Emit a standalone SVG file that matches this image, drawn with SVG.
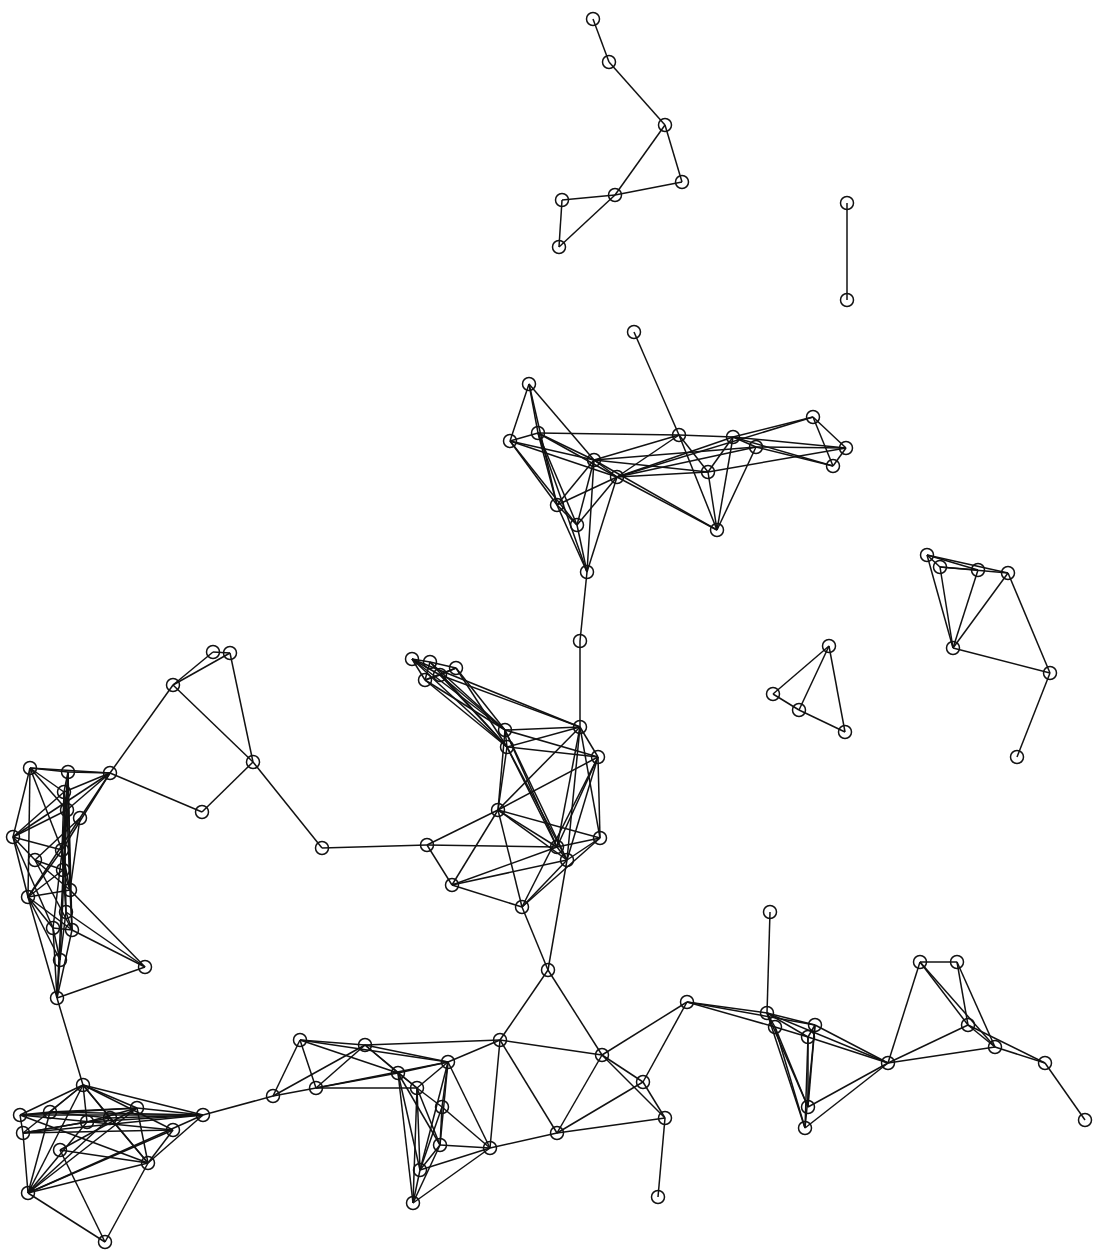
<svg xmlns="http://www.w3.org/2000/svg" width="1094" height="1252" viewBox="0 0 1094 1252">
<style>
.e line{stroke:#111;stroke-width:1.5;fill:none}
.n circle{fill:none;stroke:#111;stroke-width:1.5}
</style>
<rect width="1094" height="1252" fill="#fff"/>
<g id="edges" class="e">
<line x1="593" y1="19" x2="609" y2="62"/><line x1="609" y1="62" x2="665" y2="125"/><line x1="665" y1="125" x2="682" y2="182"/><line x1="665" y1="125" x2="615" y2="195"/><line x1="682" y1="182" x2="615" y2="195"/><line x1="615" y1="195" x2="562" y2="200"/><line x1="562" y1="200" x2="559" y2="247"/><line x1="615" y1="195" x2="559" y2="247"/>
<line x1="847" y1="203" x2="847" y2="300"/>
<line x1="634" y1="332" x2="679" y2="435"/><line x1="529" y1="384" x2="510" y2="441"/><line x1="529" y1="384" x2="538" y2="433"/><line x1="529" y1="384" x2="594" y2="460"/><line x1="529" y1="384" x2="557" y2="505"/><line x1="510" y1="441" x2="538" y2="433"/><line x1="510" y1="441" x2="594" y2="460"/><line x1="510" y1="441" x2="617" y2="477"/><line x1="510" y1="441" x2="557" y2="505"/><line x1="510" y1="441" x2="577" y2="525"/><line x1="538" y1="433" x2="594" y2="460"/><line x1="538" y1="433" x2="617" y2="477"/><line x1="538" y1="433" x2="557" y2="505"/><line x1="538" y1="433" x2="577" y2="525"/><line x1="538" y1="433" x2="587" y2="572"/><line x1="679" y1="435" x2="733" y2="437"/><line x1="679" y1="435" x2="594" y2="460"/><line x1="679" y1="435" x2="617" y2="477"/><line x1="679" y1="435" x2="708" y2="472"/><line x1="679" y1="435" x2="717" y2="530"/><line x1="733" y1="437" x2="813" y2="417"/><line x1="733" y1="437" x2="846" y2="448"/><line x1="733" y1="437" x2="833" y2="466"/><line x1="733" y1="437" x2="708" y2="472"/><line x1="733" y1="437" x2="717" y2="530"/><line x1="733" y1="437" x2="617" y2="477"/><line x1="813" y1="417" x2="846" y2="448"/><line x1="813" y1="417" x2="833" y2="466"/><line x1="813" y1="417" x2="617" y2="477"/><line x1="846" y1="448" x2="833" y2="466"/><line x1="846" y1="448" x2="756" y2="447"/><line x1="846" y1="448" x2="708" y2="472"/><line x1="594" y1="460" x2="617" y2="477"/><line x1="594" y1="460" x2="708" y2="472"/><line x1="594" y1="460" x2="557" y2="505"/><line x1="594" y1="460" x2="577" y2="525"/><line x1="594" y1="460" x2="587" y2="572"/><line x1="594" y1="460" x2="717" y2="530"/><line x1="617" y1="477" x2="708" y2="472"/><line x1="617" y1="477" x2="717" y2="530"/><line x1="617" y1="477" x2="557" y2="505"/><line x1="617" y1="477" x2="577" y2="525"/><line x1="617" y1="477" x2="587" y2="572"/><line x1="617" y1="477" x2="756" y2="447"/><line x1="708" y1="472" x2="717" y2="530"/><line x1="557" y1="505" x2="577" y2="525"/><line x1="557" y1="505" x2="587" y2="572"/><line x1="577" y1="525" x2="587" y2="572"/><line x1="717" y1="530" x2="756" y2="447"/><line x1="756" y1="447" x2="733" y2="437"/><line x1="756" y1="447" x2="833" y2="466"/><line x1="587" y1="572" x2="580" y2="641"/><line x1="538" y1="433" x2="679" y2="435"/><line x1="594" y1="460" x2="756" y2="447"/>
<line x1="580" y1="641" x2="580" y2="727"/><line x1="412" y1="659" x2="430" y2="662"/><line x1="430" y1="662" x2="456" y2="668"/><line x1="412" y1="659" x2="425" y2="680"/><line x1="456" y1="668" x2="425" y2="680"/><line x1="430" y1="662" x2="425" y2="680"/><line x1="412" y1="659" x2="505" y2="730"/><line x1="412" y1="659" x2="507" y2="747"/><line x1="430" y1="662" x2="505" y2="730"/><line x1="430" y1="662" x2="507" y2="747"/><line x1="456" y1="668" x2="505" y2="730"/><line x1="456" y1="668" x2="507" y2="747"/><line x1="425" y1="680" x2="505" y2="730"/><line x1="425" y1="680" x2="507" y2="747"/><line x1="505" y1="730" x2="507" y2="747"/><line x1="505" y1="730" x2="580" y2="727"/><line x1="505" y1="730" x2="598" y2="757"/><line x1="505" y1="730" x2="498" y2="810"/><line x1="505" y1="730" x2="557" y2="847"/><line x1="505" y1="730" x2="567" y2="860"/><line x1="507" y1="747" x2="580" y2="727"/><line x1="507" y1="747" x2="598" y2="757"/><line x1="507" y1="747" x2="498" y2="810"/><line x1="507" y1="747" x2="557" y2="847"/><line x1="507" y1="747" x2="567" y2="860"/><line x1="580" y1="727" x2="598" y2="757"/><line x1="580" y1="727" x2="498" y2="810"/><line x1="580" y1="727" x2="557" y2="847"/><line x1="580" y1="727" x2="567" y2="860"/><line x1="580" y1="727" x2="600" y2="838"/><line x1="598" y1="757" x2="498" y2="810"/><line x1="598" y1="757" x2="600" y2="838"/><line x1="598" y1="757" x2="557" y2="847"/><line x1="598" y1="757" x2="567" y2="860"/><line x1="598" y1="757" x2="522" y2="907"/><line x1="498" y1="810" x2="427" y2="845"/><line x1="498" y1="810" x2="557" y2="847"/><line x1="498" y1="810" x2="567" y2="860"/><line x1="498" y1="810" x2="452" y2="885"/><line x1="498" y1="810" x2="522" y2="907"/><line x1="498" y1="810" x2="600" y2="838"/><line x1="427" y1="845" x2="452" y2="885"/><line x1="427" y1="845" x2="557" y2="847"/><line x1="600" y1="838" x2="557" y2="847"/><line x1="600" y1="838" x2="567" y2="860"/><line x1="600" y1="838" x2="522" y2="907"/><line x1="557" y1="847" x2="567" y2="860"/><line x1="557" y1="847" x2="452" y2="885"/><line x1="567" y1="860" x2="452" y2="885"/><line x1="567" y1="860" x2="522" y2="907"/><line x1="452" y1="885" x2="522" y2="907"/><line x1="427" y1="845" x2="322" y2="848"/>
<line x1="440" y1="675" x2="505" y2="730"/><line x1="440" y1="675" x2="507" y2="747"/><line x1="440" y1="675" x2="580" y2="727"/><line x1="440" y1="675" x2="456" y2="668"/><line x1="440" y1="675" x2="412" y2="659"/><line x1="440" y1="675" x2="425" y2="680"/><line x1="412" y1="659" x2="580" y2="727"/>
<line x1="213" y1="652" x2="230" y2="653"/><line x1="213" y1="652" x2="173" y2="685"/><line x1="230" y1="653" x2="173" y2="685"/><line x1="230" y1="653" x2="253" y2="762"/><line x1="173" y1="685" x2="253" y2="762"/><line x1="173" y1="685" x2="110" y2="773"/><line x1="110" y1="773" x2="202" y2="812"/><line x1="253" y1="762" x2="202" y2="812"/><line x1="253" y1="762" x2="322" y2="848"/>
<line x1="30" y1="768" x2="68" y2="772"/><line x1="30" y1="768" x2="110" y2="773"/><line x1="68" y1="772" x2="110" y2="773"/><line x1="30" y1="768" x2="13" y2="837"/><line x1="30" y1="768" x2="67" y2="810"/><line x1="30" y1="768" x2="62" y2="850"/><line x1="110" y1="773" x2="13" y2="837"/><line x1="110" y1="773" x2="67" y2="810"/><line x1="110" y1="773" x2="80" y2="818"/><line x1="110" y1="773" x2="62" y2="850"/><line x1="68" y1="772" x2="67" y2="810"/><line x1="68" y1="772" x2="62" y2="850"/><line x1="68" y1="772" x2="70" y2="890"/><line x1="68" y1="772" x2="72" y2="930"/><line x1="67" y1="810" x2="62" y2="850"/><line x1="67" y1="810" x2="70" y2="890"/><line x1="62" y1="850" x2="70" y2="890"/><line x1="70" y1="890" x2="72" y2="930"/><line x1="72" y1="930" x2="57" y2="998"/><line x1="13" y1="837" x2="67" y2="810"/><line x1="13" y1="837" x2="28" y2="897"/><line x1="13" y1="837" x2="62" y2="850"/><line x1="13" y1="837" x2="53" y2="928"/><line x1="13" y1="837" x2="35" y2="860"/><line x1="28" y1="897" x2="53" y2="928"/><line x1="28" y1="897" x2="57" y2="998"/><line x1="28" y1="897" x2="70" y2="890"/><line x1="28" y1="897" x2="72" y2="930"/><line x1="28" y1="897" x2="62" y2="850"/><line x1="70" y1="890" x2="145" y2="967"/><line x1="72" y1="930" x2="145" y2="967"/><line x1="57" y1="998" x2="145" y2="967"/><line x1="53" y1="928" x2="57" y2="998"/><line x1="53" y1="928" x2="72" y2="930"/><line x1="80" y1="818" x2="70" y2="890"/><line x1="80" y1="818" x2="28" y2="897"/><line x1="80" y1="818" x2="35" y2="860"/><line x1="35" y1="860" x2="72" y2="930"/><line x1="35" y1="860" x2="70" y2="890"/><line x1="67" y1="810" x2="53" y2="928"/><line x1="68" y1="772" x2="57" y2="998"/><line x1="57" y1="998" x2="83" y2="1085"/><line x1="30" y1="768" x2="28" y2="897"/>
<line x1="68" y1="772" x2="64" y2="792"/><line x1="64" y1="792" x2="67" y2="810"/><line x1="64" y1="792" x2="62" y2="850"/><line x1="62" y1="850" x2="63" y2="870"/><line x1="63" y1="870" x2="70" y2="890"/><line x1="63" y1="870" x2="66" y2="912"/><line x1="66" y1="912" x2="72" y2="930"/><line x1="66" y1="912" x2="60" y2="960"/><line x1="60" y1="960" x2="57" y2="998"/><line x1="60" y1="960" x2="53" y2="928"/><line x1="64" y1="792" x2="13" y2="837"/><line x1="63" y1="870" x2="28" y2="897"/><line x1="66" y1="912" x2="145" y2="967"/><line x1="110" y1="773" x2="64" y2="792"/><line x1="30" y1="768" x2="64" y2="792"/><line x1="63" y1="870" x2="35" y2="860"/><line x1="60" y1="960" x2="28" y2="897"/><line x1="64" y1="792" x2="66" y2="912"/><line x1="67" y1="810" x2="60" y2="960"/>
<line x1="83" y1="1085" x2="20" y2="1115"/><line x1="83" y1="1085" x2="23" y2="1133"/><line x1="83" y1="1085" x2="87" y2="1122"/><line x1="83" y1="1085" x2="137" y2="1108"/><line x1="83" y1="1085" x2="173" y2="1130"/><line x1="83" y1="1085" x2="148" y2="1163"/><line x1="83" y1="1085" x2="28" y2="1193"/><line x1="83" y1="1085" x2="203" y2="1115"/><line x1="20" y1="1115" x2="23" y2="1133"/><line x1="20" y1="1115" x2="137" y2="1108"/><line x1="20" y1="1115" x2="203" y2="1115"/><line x1="20" y1="1115" x2="173" y2="1130"/><line x1="20" y1="1115" x2="148" y2="1163"/><line x1="23" y1="1133" x2="203" y2="1115"/><line x1="23" y1="1133" x2="28" y2="1193"/><line x1="23" y1="1133" x2="87" y2="1122"/><line x1="87" y1="1122" x2="28" y2="1193"/><line x1="87" y1="1122" x2="203" y2="1115"/><line x1="87" y1="1122" x2="137" y2="1108"/><line x1="137" y1="1108" x2="148" y2="1163"/><line x1="137" y1="1108" x2="203" y2="1115"/><line x1="173" y1="1130" x2="148" y2="1163"/><line x1="173" y1="1130" x2="28" y2="1193"/><line x1="203" y1="1115" x2="28" y2="1193"/><line x1="148" y1="1163" x2="28" y2="1193"/><line x1="28" y1="1193" x2="105" y2="1242"/><line x1="148" y1="1163" x2="105" y2="1242"/><line x1="60" y1="1150" x2="105" y2="1242"/><line x1="60" y1="1150" x2="148" y2="1163"/><line x1="60" y1="1150" x2="137" y2="1108"/><line x1="23" y1="1133" x2="173" y2="1130"/><line x1="203" y1="1115" x2="148" y2="1163"/><line x1="28" y1="1193" x2="137" y2="1108"/>
<line x1="20" y1="1115" x2="50" y2="1112"/><line x1="50" y1="1112" x2="83" y2="1085"/><line x1="50" y1="1112" x2="110" y2="1118"/><line x1="110" y1="1118" x2="203" y2="1115"/><line x1="50" y1="1112" x2="28" y2="1193"/><line x1="110" y1="1118" x2="28" y2="1193"/><line x1="50" y1="1112" x2="137" y2="1108"/><line x1="110" y1="1118" x2="83" y2="1085"/><line x1="110" y1="1118" x2="148" y2="1163"/><line x1="23" y1="1133" x2="110" y2="1118"/><line x1="50" y1="1112" x2="203" y2="1115"/>
<line x1="203" y1="1115" x2="273" y2="1096"/><line x1="273" y1="1096" x2="316" y2="1088"/><line x1="273" y1="1096" x2="300" y2="1040"/><line x1="273" y1="1096" x2="365" y2="1045"/><line x1="316" y1="1088" x2="300" y2="1040"/><line x1="316" y1="1088" x2="365" y2="1045"/><line x1="300" y1="1040" x2="365" y2="1045"/><line x1="300" y1="1040" x2="448" y2="1062"/><line x1="316" y1="1088" x2="448" y2="1062"/><line x1="316" y1="1088" x2="398" y2="1073"/><line x1="316" y1="1088" x2="417" y2="1088"/><line x1="300" y1="1040" x2="398" y2="1073"/><line x1="365" y1="1045" x2="448" y2="1062"/><line x1="365" y1="1045" x2="398" y2="1073"/><line x1="365" y1="1045" x2="417" y2="1088"/><line x1="448" y1="1062" x2="500" y2="1040"/><line x1="448" y1="1062" x2="398" y2="1073"/><line x1="448" y1="1062" x2="417" y2="1088"/><line x1="448" y1="1062" x2="442" y2="1107"/><line x1="448" y1="1062" x2="440" y2="1145"/><line x1="448" y1="1062" x2="490" y2="1148"/><line x1="448" y1="1062" x2="420" y2="1170"/><line x1="500" y1="1040" x2="490" y2="1148"/><line x1="398" y1="1073" x2="417" y2="1088"/><line x1="398" y1="1073" x2="440" y2="1145"/><line x1="398" y1="1073" x2="420" y2="1170"/><line x1="398" y1="1073" x2="413" y2="1203"/><line x1="417" y1="1088" x2="442" y2="1107"/><line x1="417" y1="1088" x2="440" y2="1145"/><line x1="417" y1="1088" x2="420" y2="1170"/><line x1="417" y1="1088" x2="413" y2="1203"/><line x1="442" y1="1107" x2="440" y2="1145"/><line x1="442" y1="1107" x2="420" y2="1170"/><line x1="442" y1="1107" x2="490" y2="1148"/><line x1="440" y1="1145" x2="490" y2="1148"/><line x1="440" y1="1145" x2="420" y2="1170"/><line x1="440" y1="1145" x2="413" y2="1203"/><line x1="490" y1="1148" x2="420" y2="1170"/><line x1="490" y1="1148" x2="413" y2="1203"/><line x1="420" y1="1170" x2="413" y2="1203"/><line x1="500" y1="1040" x2="365" y2="1045"/>
<line x1="522" y1="907" x2="548" y2="970"/><line x1="567" y1="860" x2="548" y2="970"/><line x1="548" y1="970" x2="500" y2="1040"/><line x1="548" y1="970" x2="602" y2="1055"/><line x1="500" y1="1040" x2="602" y2="1055"/><line x1="500" y1="1040" x2="557" y2="1133"/><line x1="602" y1="1055" x2="557" y2="1133"/><line x1="602" y1="1055" x2="687" y2="1002"/><line x1="602" y1="1055" x2="643" y2="1082"/><line x1="602" y1="1055" x2="665" y2="1118"/><line x1="643" y1="1082" x2="687" y2="1002"/><line x1="643" y1="1082" x2="557" y2="1133"/><line x1="643" y1="1082" x2="665" y2="1118"/><line x1="665" y1="1118" x2="557" y2="1133"/><line x1="557" y1="1133" x2="490" y2="1148"/><line x1="665" y1="1118" x2="658" y2="1197"/>
<line x1="687" y1="1002" x2="767" y2="1013"/><line x1="687" y1="1002" x2="815" y2="1025"/><line x1="770" y1="912" x2="767" y2="1013"/><line x1="767" y1="1013" x2="815" y2="1025"/><line x1="767" y1="1013" x2="775" y2="1027"/><line x1="767" y1="1013" x2="808" y2="1037"/><line x1="767" y1="1013" x2="888" y2="1063"/><line x1="767" y1="1013" x2="808" y2="1107"/><line x1="767" y1="1013" x2="805" y2="1128"/><line x1="815" y1="1025" x2="808" y2="1037"/><line x1="815" y1="1025" x2="888" y2="1063"/><line x1="815" y1="1025" x2="808" y2="1107"/><line x1="815" y1="1025" x2="805" y2="1128"/><line x1="808" y1="1037" x2="808" y2="1107"/><line x1="808" y1="1037" x2="805" y2="1128"/><line x1="808" y1="1037" x2="888" y2="1063"/><line x1="775" y1="1027" x2="805" y2="1128"/><line x1="775" y1="1027" x2="808" y2="1107"/><line x1="775" y1="1027" x2="808" y2="1037"/><line x1="888" y1="1063" x2="808" y2="1107"/><line x1="888" y1="1063" x2="805" y2="1128"/><line x1="888" y1="1063" x2="920" y2="962"/><line x1="888" y1="1063" x2="995" y2="1047"/><line x1="888" y1="1063" x2="968" y2="1025"/><line x1="920" y1="962" x2="957" y2="962"/><line x1="920" y1="962" x2="995" y2="1047"/><line x1="920" y1="962" x2="968" y2="1025"/><line x1="957" y1="962" x2="995" y2="1047"/><line x1="957" y1="962" x2="968" y2="1025"/><line x1="995" y1="1047" x2="1045" y2="1063"/><line x1="1045" y1="1063" x2="1085" y2="1120"/><line x1="968" y1="1025" x2="1045" y2="1063"/><line x1="995" y1="1047" x2="968" y2="1025"/><line x1="687" y1="1002" x2="775" y2="1027"/>
<line x1="927" y1="555" x2="940" y2="567"/><line x1="927" y1="555" x2="978" y2="570"/><line x1="927" y1="555" x2="1008" y2="573"/><line x1="940" y1="567" x2="1008" y2="573"/><line x1="940" y1="567" x2="978" y2="570"/><line x1="927" y1="555" x2="953" y2="648"/><line x1="940" y1="567" x2="953" y2="648"/><line x1="978" y1="570" x2="953" y2="648"/><line x1="1008" y1="573" x2="953" y2="648"/><line x1="1008" y1="573" x2="1050" y2="673"/><line x1="953" y1="648" x2="1050" y2="673"/><line x1="1050" y1="673" x2="1017" y2="757"/>
<line x1="829" y1="646" x2="773" y2="694"/><line x1="829" y1="646" x2="799" y2="710"/><line x1="829" y1="646" x2="845" y2="732"/><line x1="773" y1="694" x2="799" y2="710"/><line x1="799" y1="710" x2="845" y2="732"/>
</g>
<g class="n">
<g id="n1"><circle cx="593" cy="19" r="6.5"/></g><g id="n2"><circle cx="609" cy="62" r="6.5"/></g><g id="n3"><circle cx="665" cy="125" r="6.5"/></g><g id="n4"><circle cx="682" cy="182" r="6.5"/></g><g id="n5"><circle cx="615" cy="195" r="6.5"/></g><g id="n6"><circle cx="562" cy="200" r="6.5"/></g><g id="n7"><circle cx="559" cy="247" r="6.5"/></g>
<g id="n8"><circle cx="847" cy="203" r="6.5"/></g><g id="n9"><circle cx="847" cy="300" r="6.5"/></g>
<g id="n10"><circle cx="634" cy="332" r="6.5"/></g><g id="n11"><circle cx="529" cy="384" r="6.5"/></g><g id="n12"><circle cx="510" cy="441" r="6.5"/></g><g id="n13"><circle cx="538" cy="433" r="6.5"/></g><g id="n14"><circle cx="679" cy="435" r="6.5"/></g><g id="n15"><circle cx="733" cy="437" r="6.5"/></g><g id="n16"><circle cx="813" cy="417" r="6.5"/></g><g id="n17"><circle cx="846" cy="448" r="6.5"/></g><g id="n18"><circle cx="833" cy="466" r="6.5"/></g><g id="n19"><circle cx="594" cy="460" r="6.5"/></g><g id="n20"><circle cx="617" cy="477" r="6.5"/></g><g id="n21"><circle cx="708" cy="472" r="6.5"/></g><g id="n22"><circle cx="557" cy="505" r="6.5"/></g><g id="n23"><circle cx="577" cy="525" r="6.5"/></g><g id="n24"><circle cx="717" cy="530" r="6.5"/></g><g id="n25"><circle cx="587" cy="572" r="6.5"/></g><g id="n26"><circle cx="756" cy="447" r="6.5"/></g><g id="n27"><circle cx="580" cy="641" r="6.5"/></g>
<g id="n28"><circle cx="412" cy="659" r="6.5"/></g><g id="n29"><circle cx="430" cy="662" r="6.5"/></g><g id="n30"><circle cx="456" cy="668" r="6.5"/></g><g id="n31"><circle cx="425" cy="680" r="6.5"/></g><g id="n126"><circle cx="440" cy="675" r="6.5"/></g><g id="n32"><circle cx="505" cy="730" r="6.5"/></g><g id="n33"><circle cx="507" cy="747" r="6.5"/></g><g id="n34"><circle cx="580" cy="727" r="6.5"/></g><g id="n35"><circle cx="598" cy="757" r="6.5"/></g><g id="n36"><circle cx="498" cy="810" r="6.5"/></g><g id="n37"><circle cx="427" cy="845" r="6.5"/></g><g id="n38"><circle cx="600" cy="838" r="6.5"/></g><g id="n39"><circle cx="557" cy="847" r="6.5"/></g><g id="n40"><circle cx="567" cy="860" r="6.5"/></g><g id="n41"><circle cx="452" cy="885" r="6.5"/></g><g id="n42"><circle cx="522" cy="907" r="6.5"/></g>
<g id="n43"><circle cx="213" cy="652" r="6.5"/></g><g id="n44"><circle cx="230" cy="653" r="6.5"/></g><g id="n45"><circle cx="173" cy="685" r="6.5"/></g><g id="n46"><circle cx="253" cy="762" r="6.5"/></g><g id="n47"><circle cx="110" cy="773" r="6.5"/></g><g id="n48"><circle cx="202" cy="812" r="6.5"/></g><g id="n49"><circle cx="322" cy="848" r="6.5"/></g>
<g id="n50"><circle cx="30" cy="768" r="6.5"/></g><g id="n51"><circle cx="68" cy="772" r="6.5"/></g><g id="n120"><circle cx="64" cy="792" r="6.5"/></g><g id="n52"><circle cx="13" cy="837" r="6.5"/></g><g id="n53"><circle cx="80" cy="818" r="6.5"/></g><g id="n54"><circle cx="67" cy="810" r="6.5"/></g><g id="n55"><circle cx="28" cy="897" r="6.5"/></g><g id="n56"><circle cx="70" cy="890" r="6.5"/></g><g id="n121"><circle cx="63" cy="870" r="6.5"/></g><g id="n122"><circle cx="66" cy="912" r="6.5"/></g><g id="n123"><circle cx="60" cy="960" r="6.5"/></g><g id="n57"><circle cx="53" cy="928" r="6.5"/></g><g id="n58"><circle cx="72" cy="930" r="6.5"/></g><g id="n59"><circle cx="57" cy="998" r="6.5"/></g><g id="n60"><circle cx="145" cy="967" r="6.5"/></g><g id="n61"><circle cx="62" cy="850" r="6.5"/></g><g id="n62"><circle cx="35" cy="860" r="6.5"/></g>
<g id="n63"><circle cx="83" cy="1085" r="6.5"/></g><g id="n64"><circle cx="20" cy="1115" r="6.5"/></g><g id="n65"><circle cx="23" cy="1133" r="6.5"/></g><g id="n124"><circle cx="50" cy="1112" r="6.5"/></g><g id="n125"><circle cx="110" cy="1118" r="6.5"/></g><g id="n66"><circle cx="87" cy="1122" r="6.5"/></g><g id="n67"><circle cx="137" cy="1108" r="6.5"/></g><g id="n68"><circle cx="173" cy="1130" r="6.5"/></g><g id="n69"><circle cx="203" cy="1115" r="6.5"/></g><g id="n70"><circle cx="148" cy="1163" r="6.5"/></g><g id="n71"><circle cx="28" cy="1193" r="6.5"/></g><g id="n72"><circle cx="105" cy="1242" r="6.5"/></g><g id="n73"><circle cx="60" cy="1150" r="6.5"/></g>
<g id="n74"><circle cx="273" cy="1096" r="6.5"/></g><g id="n75"><circle cx="316" cy="1088" r="6.5"/></g><g id="n76"><circle cx="300" cy="1040" r="6.5"/></g><g id="n77"><circle cx="365" cy="1045" r="6.5"/></g><g id="n78"><circle cx="448" cy="1062" r="6.5"/></g><g id="n79"><circle cx="500" cy="1040" r="6.5"/></g><g id="n80"><circle cx="398" cy="1073" r="6.5"/></g><g id="n81"><circle cx="417" cy="1088" r="6.5"/></g><g id="n82"><circle cx="442" cy="1107" r="6.5"/></g><g id="n83"><circle cx="440" cy="1145" r="6.5"/></g><g id="n85"><circle cx="490" cy="1148" r="6.5"/></g><g id="n86"><circle cx="420" cy="1170" r="6.5"/></g><g id="n87"><circle cx="413" cy="1203" r="6.5"/></g>
<g id="n88"><circle cx="548" cy="970" r="6.5"/></g><g id="n89"><circle cx="602" cy="1055" r="6.5"/></g><g id="n90"><circle cx="643" cy="1082" r="6.5"/></g><g id="n91"><circle cx="687" cy="1002" r="6.5"/></g><g id="n92"><circle cx="665" cy="1118" r="6.5"/></g><g id="n93"><circle cx="557" cy="1133" r="6.5"/></g><g id="n94"><circle cx="658" cy="1197" r="6.5"/></g>
<g id="n95"><circle cx="770" cy="912" r="6.5"/></g><g id="n96"><circle cx="767" cy="1013" r="6.5"/></g><g id="n97"><circle cx="815" cy="1025" r="6.5"/></g><g id="n98"><circle cx="808" cy="1037" r="6.5"/></g><g id="n99"><circle cx="888" cy="1063" r="6.5"/></g><g id="n100"><circle cx="920" cy="962" r="6.5"/></g><g id="n101"><circle cx="957" cy="962" r="6.5"/></g><g id="n102"><circle cx="995" cy="1047" r="6.5"/></g><g id="n103"><circle cx="968" cy="1025" r="6.5"/></g><g id="n104"><circle cx="1045" cy="1063" r="6.5"/></g><g id="n105"><circle cx="1085" cy="1120" r="6.5"/></g><g id="n106"><circle cx="808" cy="1107" r="6.5"/></g><g id="n107"><circle cx="805" cy="1128" r="6.5"/></g><g id="n108"><circle cx="775" cy="1027" r="6.5"/></g>
<g id="n109"><circle cx="927" cy="555" r="6.5"/></g><g id="n110"><circle cx="940" cy="567" r="6.5"/></g><g id="n111"><circle cx="978" cy="570" r="6.5"/></g><g id="n112"><circle cx="1008" cy="573" r="6.5"/></g><g id="n113"><circle cx="953" cy="648" r="6.5"/></g><g id="n114"><circle cx="1050" cy="673" r="6.5"/></g><g id="n115"><circle cx="1017" cy="757" r="6.5"/></g>
<g id="n116"><circle cx="829" cy="646" r="6.5"/></g><g id="n117"><circle cx="773" cy="694" r="6.5"/></g><g id="n118"><circle cx="799" cy="710" r="6.5"/></g><g id="n119"><circle cx="845" cy="732" r="6.5"/></g>
</g>
</svg>
